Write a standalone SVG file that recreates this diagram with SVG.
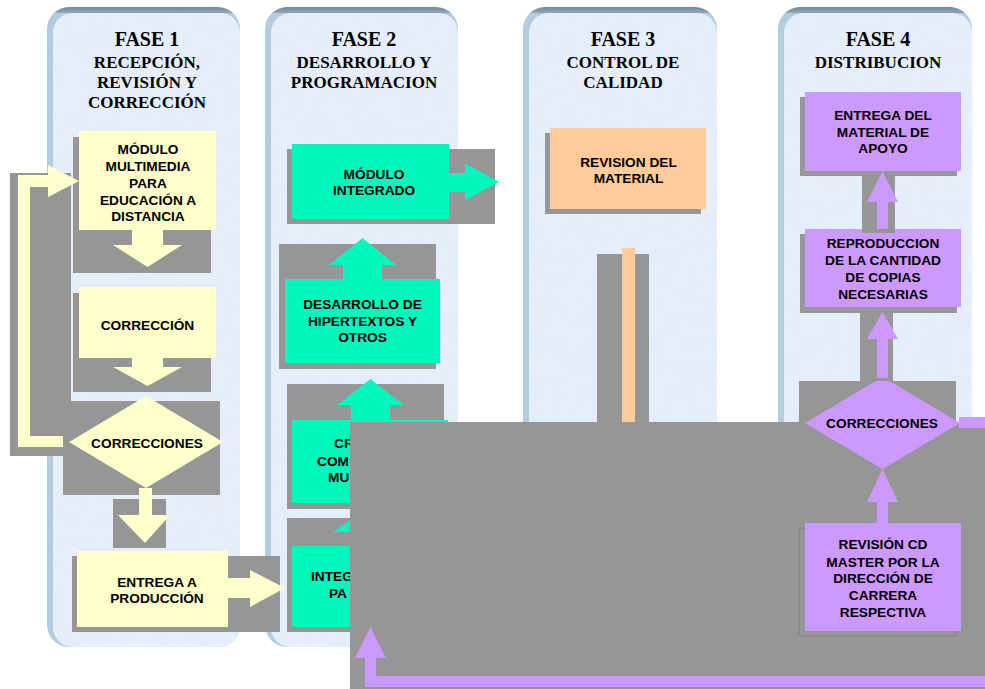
<svg xmlns="http://www.w3.org/2000/svg" width="985" height="689" viewBox="0 0 985 689">
<defs>
<linearGradient id="edge" gradientUnits="userSpaceOnUse" x1="0" y1="7" x2="0" y2="20">
<stop offset="0" stop-color="#728a9c"/><stop offset="0.42" stop-color="#8ca4b5"/><stop offset="0.5" stop-color="#b3cde0"/><stop offset="1" stop-color="#b3cde0"/>
</linearGradient>
<filter id="tex" x="0" y="0" width="100%" height="100%">
<feTurbulence type="fractalNoise" baseFrequency="0.08" numOctaves="2" seed="3" result="n"/>
<feColorMatrix in="n" type="matrix" values="0 0 0 0 0.80  0 0 0 0 0.87  0 0 0 0 0.96  0 0 0 0.9 -0.2" result="c"/>
<feComposite in="c" in2="SourceGraphic" operator="in" result="m"/>
<feMerge><feMergeNode in="SourceGraphic"/><feMergeNode in="m"/></feMerge>
</filter>
</defs>
<style>
.edge{fill:url(#edge)}
.pan{fill:#e4eefa}
.sh{fill:#969696}
.y{fill:#ffffcc}
.g{fill:#00f8bc}
.o{fill:#ffcc99}
.p{fill:#cc99ff}
.t{font-family:"Liberation Sans",Arial,sans-serif;font-weight:bold;font-size:13.7px;text-anchor:middle;fill:#000}
.ts{font-family:"Liberation Sans",Arial,sans-serif;font-weight:bold;font-size:13.7px;text-anchor:start;fill:#000}
.h{font-family:"Liberation Serif","Times New Roman",serif;font-weight:bold;font-size:20px;text-anchor:middle;fill:#000}
.s{font-family:"Liberation Serif","Times New Roman",serif;font-weight:bold;font-size:17px;text-anchor:middle;fill:#000}
</style>

<!-- phase panels -->
<g id="fase1">
<rect class="edge" x="47" y="7" width="193" height="640" rx="22"/>
<rect class="pan" x="53" y="13" width="187" height="634" rx="20" filter="url(#tex)"/>
<text class="h" x="147" y="46">FASE 1</text>
<text class="s" x="147" y="68">RECEPCIÓN,</text>
<text class="s" x="147" y="88">REVISIÓN Y</text>
<text class="s" x="147" y="108">CORRECCIÓN</text>
</g>
<g id="fase2">
<rect class="edge" x="265" y="7" width="193" height="640" rx="22"/>
<rect class="pan" x="271" y="13" width="187" height="634" rx="20" filter="url(#tex)"/>
<text class="h" x="364" y="46">FASE 2</text>
<text class="s" x="364" y="68">DESARROLLO Y</text>
<text class="s" x="364" y="88">PROGRAMACION</text>
</g>
<g id="fase3">
<rect class="edge" x="523" y="7" width="194" height="640" rx="22"/>
<rect class="pan" x="529" y="13" width="188" height="634" rx="20" filter="url(#tex)"/>
<text class="h" x="623" y="46">FASE 3</text>
<text class="s" x="623" y="68">CONTROL DE</text>
<text class="s" x="623" y="88">CALIDAD</text>
</g>
<g id="fase4">
<rect class="edge" x="778" y="7" width="194" height="640" rx="22"/>
<rect class="pan" x="784" y="13" width="188" height="634" rx="20" filter="url(#tex)"/>
<text class="h" x="878" y="46">FASE 4</text>
<text class="s" x="878" y="68">DISTRIBUCION</text>
</g>

<!-- shadows of connectors (phase 1/2) -->
<g id="connector-shadows">
<rect class="sh" x="10" y="173" width="61" height="283"/>
<rect class="sh" x="113" y="499" width="53" height="49"/>
</g>

<!-- phase 1 nodes -->
<g id="modulo-multimedia">
<rect class="sh" x="73" y="137" width="138" height="136"/>
<rect class="y" x="79" y="131" width="137" height="99"/>
<text class="t" x="148" y="154">MÓDULO</text>
<text class="t" x="148" y="171">MULTIMEDIA</text>
<text class="t" x="148" y="188">PARA</text>
<text class="t" x="148" y="205">EDUCACIÓN A</text>
<text class="t" x="148" y="221">DISTANCIA</text>
</g>
<g id="correccion">
<rect class="sh" x="73" y="293" width="138" height="99"/>
<rect class="y" x="79" y="287" width="137" height="71"/>
<text class="t" x="147.5" y="330">CORRECCIÓN</text>
</g>
<g id="correcciones-1">
<rect class="sh" x="63" y="401" width="157" height="94"/>
<polygon class="y" points="69,442 146,396 223,442 146,488"/>
<text class="t" x="147" y="447.5">CORRECCIONES</text>
</g>
<g id="entrega-produccion">
<rect class="sh" x="72" y="556" width="208" height="76"/>
<rect class="y" x="77" y="551" width="151" height="76"/>
<text class="t" x="157" y="586.5">ENTREGA A</text>
<text class="t" x="157" y="603">PRODUCCIÓN</text>
</g>

<!-- phase 2 nodes -->
<g id="modulo-integrado">
<rect class="sh" x="287" y="149" width="208" height="75"/>
<rect class="g" x="292" y="144" width="157" height="75"/>
<text class="t" x="374" y="179">MÓDULO</text>
<text class="t" x="374" y="195">INTEGRADO</text>
</g>
<g id="desarrollo-hipertextos">
<rect class="sh" x="279" y="244" width="157" height="125"/>
<rect class="g" x="285" y="279" width="155" height="84"/>
<text class="t" x="362.5" y="309">DESARROLLO DE</text>
<text class="t" x="362.5" y="325.5">HIPERTEXTOS Y</text>
<text class="t" x="362.5" y="342">OTROS</text>
</g>
<g id="creacion">
<rect class="sh" x="287" y="384" width="157" height="125"/>
<rect class="g" x="292" y="420" width="156" height="83"/>
<text class="ts" x="334" y="448">CR</text>
<text class="ts" x="317" y="465.5">COM</text>
<text class="ts" x="328" y="482">MU</text>
</g>
<g id="integracion">
<rect class="sh" x="287" y="518" width="157" height="114"/>
<rect class="g" x="292" y="546" width="156" height="81"/>
<text class="ts" x="311" y="581">INTEG</text>
<text class="ts" x="329" y="598">PA</text>
</g>

<!-- phase 3 nodes -->
<g id="revision-material">
<rect class="sh" x="545" y="133" width="156" height="81"/>
<rect class="o" x="550" y="128" width="156" height="81"/>
<text class="t" x="628.5" y="166.5">REVISION DEL</text>
<text class="t" x="628.5" y="183">MATERIAL</text>
</g>

<!-- connectors -->
<g id="connectors">
<!-- phase 1 -->
<polygon class="y" points="132,230 163,230 163,245 182,245 147.5,267 113,245 132,245"/>
<polygon class="y" points="132,358 163,358 163,367 182,367 147.5,386 113,367 132,367"/>
<polygon class="y" points="139,488 152,488 152,515 170,515 145,543 118,515 139,515"/>
<polygon class="y" points="228,578 250,578 250,570 285,588 250,607 250,598 228,598"/>
<polygon class="y" points="63,436 30,436 30,187 48,187 48,197 79,181 48,165 48,175 18,175 18,447 63,447"/>
<!-- phase 2 -->
<polygon class="g" points="449,173 465,173 465,163 499,182 465,200 465,192 449,192"/>
<polygon class="g" points="343,279 382,279 382,265 396,265 362.5,238 329,265 343,265"/>
<polygon class="g" points="351,420 390,420 390,405 404,405 370.5,379 337,405 351,405"/>
<polygon class="g" points="351,546 390,546 390,532 407,532 370,506 333,532 351,532"/>
<!-- phase 3 -->
<rect class="sh" x="597" y="254" width="52" height="180"/>
<rect class="o" x="622" y="248" width="13" height="186"/>
</g>

<!-- large grey area -->
<g id="grey-block">
<rect class="sh" x="350" y="422" width="635" height="267"/>
</g>

<!-- phase 4 nodes -->
<g id="entrega-material">
<rect class="sh" x="800" y="97" width="157" height="79"/>
<rect class="p" x="805" y="92" width="156" height="79"/>
<text class="t" x="883" y="120">ENTREGA DEL</text>
<text class="t" x="883" y="136.5">MATERIAL DE</text>
<text class="t" x="883" y="153">APOYO</text>
</g>
<g id="reproduccion">
<rect class="sh" x="800" y="234" width="157" height="79"/>
<rect class="p" x="805" y="229" width="156" height="78"/>
<text class="t" x="883" y="248">REPRODUCCION</text>
<text class="t" x="883" y="265">DE LA CANTIDAD</text>
<text class="t" x="883" y="281.5">DE COPIAS</text>
<text class="t" x="883" y="299">NECESARIAS</text>
</g>
<g id="correcciones-4">
<rect class="sh" x="799" y="381" width="157" height="93"/>
<polygon class="p" points="805,423 882.5,377 960,423 882.5,469"/>
<text class="t" x="882" y="428">CORRECCIONES</text>
</g>
<g id="revision-cd">
<rect class="sh" x="799" y="528" width="157" height="108" stroke="#7c7c7c" stroke-width="0.8"/>
<rect class="p" x="805" y="523" width="156" height="108"/>
<text class="t" x="883" y="549">REVISIÓN CD</text>
<text class="t" x="883" y="566.5">MASTER POR LA</text>
<text class="t" x="883" y="583">DIRECCIÓN DE</text>
<text class="t" x="883" y="600">CARRERA</text>
<text class="t" x="883" y="616.5">RESPECTIVA</text>
</g>

<g id="connectors-phase4">
<rect class="sh" x="862" y="176" width="33" height="57"/>
<polygon class="p" points="877,229 888,229 888,202 898,202 882.5,171 867,202 877,202"/>
<rect class="sh" x="860" y="313" width="33" height="68"/>
<polygon class="p" points="877,378 888,378 888,339 898,339 882.5,312 867,339 877,339"/>
<polygon class="p" points="877,523 888,523 888,502 898,502 882.5,469 867,502 877,502"/>
<rect class="p" x="959" y="417" width="26" height="11"/>
<polygon class="p" points="985,676 376,676 376,658 386,658 370.5,627 355,658 365,658 365,687 985,687"/>
</g>
</svg>
